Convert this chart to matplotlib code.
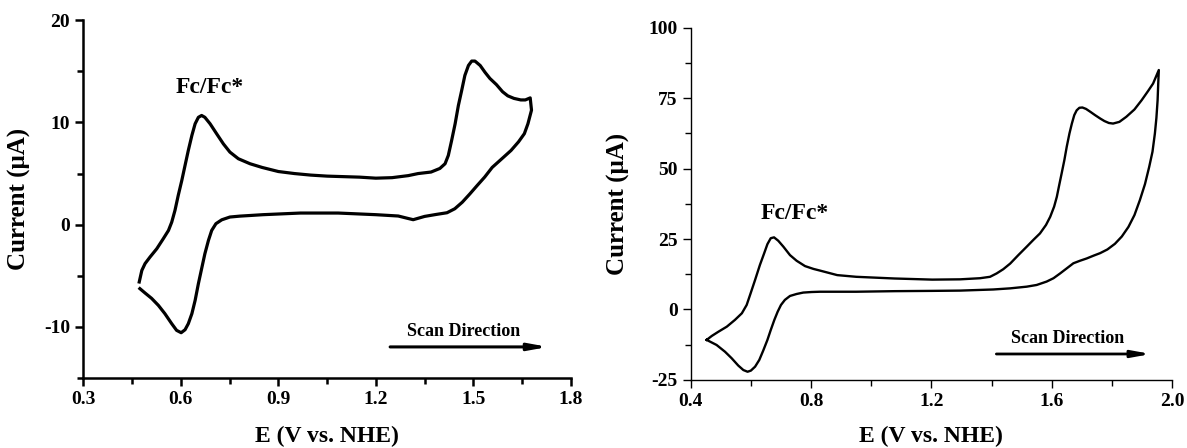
import matplotlib.pyplot as plt
from matplotlib.ticker import MultipleLocator

# ---- cyclic voltammograms, potential (V vs NHE) and current (uA) ----
# left panel: anodic sweep from 0.47 V, then the return sweep
E_left = [0.472, 0.480, 0.490, 0.505, 0.526, 0.546, 0.562, 0.572, 0.582, 0.592,
          0.603, 0.613, 0.623, 0.634, 0.644, 0.654, 0.664, 0.674, 0.690, 0.710,
          0.731, 0.751, 0.777, 0.813, 0.850, 0.900, 0.950, 1.000, 1.050, 1.100,
          1.150, 1.200, 1.250, 1.300, 1.330, 1.370, 1.397, 1.413, 1.423, 1.433,
          1.444, 1.454, 1.464, 1.474, 1.485, 1.495, 1.505, 1.521, 1.536, 1.551,
          1.571, 1.590, 1.606, 1.625, 1.646, 1.660, 1.675, 1.679, 1.668, 1.657,
          1.639, 1.616, 1.593, 1.558, 1.535, 1.512, 1.489, 1.466, 1.443, 1.419,
          1.385, 1.350, 1.315, 1.298, 1.269, 1.200, 1.084, 0.968, 0.853, 0.813,
          0.782, 0.751, 0.726, 0.708, 0.695, 0.685, 0.674, 0.664, 0.654, 0.644,
          0.634, 0.623, 0.613, 0.601, 0.587, 0.572, 0.551, 0.531, 0.510, 0.490,
          0.474]
I_left = [-5.6, -4.47, -3.8, -3.17, -2.35, -1.37, -0.56, 0.25, 1.4, 2.86,
          4.33, 5.8, 7.26, 8.73, 9.87, 10.5, 10.68, 10.5, 9.87, 8.9,
          7.9, 7.1, 6.45, 5.96, 5.6, 5.2, 5.0, 4.85, 4.75, 4.7,
          4.65, 4.55, 4.6, 4.8, 5.0, 5.15, 5.5, 5.96, 6.77, 8.2,
          9.87, 11.66, 13.1, 14.6, 15.57, 16.0, 16.0, 15.57, 14.9, 14.3,
          13.7, 13.0, 12.6, 12.35, 12.2, 12.2, 12.4, 11.2, 9.87, 8.9,
          8.1, 7.26, 6.6, 5.6, 4.66, 3.84, 3.0, 2.2, 1.56, 1.17,
          1.0, 0.81, 0.49, 0.62, 0.85, 0.98, 1.14, 1.14, 0.98, 0.9,
          0.84, 0.75, 0.48, 0.1, -0.56, -1.53, -2.84, -4.3, -5.77, -7.4,
          -8.7, -9.68, -10.27, -10.56, -10.33, -9.68, -8.7, -7.89, -7.2, -6.68,
          -6.25]

# right panel
E_right = [0.453, 0.470, 0.492, 0.520, 0.547, 0.570, 0.586, 0.599, 0.614, 0.630,
           0.644, 0.655, 0.666, 0.677, 0.691, 0.708, 0.730, 0.752, 0.780, 0.808,
           0.830, 0.887, 0.950, 1.077, 1.203, 1.295, 1.362, 1.395, 1.417, 1.439,
           1.462, 1.489, 1.517, 1.539, 1.561, 1.581, 1.595, 1.608, 1.617, 1.625,
           1.633, 1.642, 1.650, 1.659, 1.667, 1.675, 1.683, 1.692, 1.702, 1.714,
           1.728, 1.744, 1.761, 1.775, 1.790, 1.804, 1.825, 1.848, 1.875, 1.899,
           1.920, 1.937, 1.956, 1.954, 1.952, 1.948, 1.943, 1.935, 1.924, 1.910,
           1.893, 1.875, 1.855, 1.833, 1.810, 1.785, 1.761, 1.739, 1.716, 1.694,
           1.672, 1.650, 1.628, 1.606, 1.583, 1.550, 1.517, 1.462, 1.406, 1.295,
           1.200, 1.077, 0.950, 0.830, 0.802, 0.774, 0.752, 0.730, 0.713, 0.700,
           0.689, 0.678, 0.666, 0.655, 0.641, 0.628, 0.614, 0.600, 0.589, 0.575,
           0.558, 0.536, 0.514, 0.486, 0.464, 0.453]
I_right = [-10.8, -9.4, -7.9, -6.1, -3.7, -1.35, 1.6, 5.7, 10.5, 15.8,
           19.9, 23.2, 25.3, 25.6, 24.4, 22.3, 19.3, 17.3, 15.4, 14.4,
           13.8, 12.2, 11.6, 11.0, 10.6, 10.7, 11.1, 11.6, 12.8, 14.3,
           16.3, 19.3, 22.3, 24.7, 27.0, 30.0, 32.9, 36.5, 40.0, 44.2,
           48.3, 53.0, 57.8, 62.5, 66.0, 69.0, 70.7, 71.6, 71.7, 71.2,
           70.2, 69.0, 67.8, 66.9, 66.2, 66.0, 66.6, 68.4, 71.0, 74.3,
           77.5, 80.2, 85.0, 80.0, 74.3, 68.0, 62.5, 56.0, 50.6, 44.5,
           38.8, 33.5, 29.3, 25.9, 23.3, 21.3, 20.0, 19.1, 18.1, 17.3,
           16.4, 14.6, 12.8, 11.1, 9.9, 8.7, 8.1, 7.5, 7.1, 6.7,
           6.6, 6.5, 6.3, 6.3, 6.2, 6.0, 5.5, 4.8, 3.4, 1.6,
           -0.8, -3.7, -7.3, -10.8, -14.6, -17.9, -20.3, -21.7, -22.1, -21.5,
           -19.9, -17.3, -15.0, -12.6, -11.4, -10.8]

plt.rcParams['font.family'] = ['Liberation Serif', 'DejaVu Serif']
plt.rcParams['font.weight'] = 'bold'
plt.rcParams['axes.unicode_minus'] = False

fig = plt.figure(figsize=(11.87, 4.48), dpi=100)
ax1 = fig.add_axes([0.0702, 0.156, 0.4107, 0.799])
ax2 = fig.add_axes([0.5819, 0.152, 0.4055, 0.786])

# ---- left panel ----
ax1.plot(E_left, I_left, color='black', lw=2.3, solid_joinstyle='round')
ax1.set_xlim(0.3, 1.8)
ax1.set_ylim(-15, 20)
ax1.xaxis.set_major_locator(MultipleLocator(0.3))
ax1.xaxis.set_minor_locator(MultipleLocator(0.15))
ax1.yaxis.set_major_locator(MultipleLocator(10))
ax1.yaxis.set_minor_locator(MultipleLocator(5))
ax1.text(0.69, 13.4, 'Fc/Fc*', fontsize=17, fontweight='bold', ha='center', va='center')
ax1.text(1.47, -10.4, 'Scan Direction', fontsize=13, fontweight='bold', ha='center', va='center')
ax1.annotate('', xy=(1.73, -11.95), xytext=(1.244, -11.95),
             arrowprops=dict(arrowstyle='-|>,head_length=1.1,head_width=0.2',
                             lw=2.2, color='black', shrinkA=0, shrinkB=0))
for s in ['left', 'bottom']:
    ax1.spines[s].set_linewidth(1.8)
ax1.tick_params(which='major', direction='out', length=6, width=1.8, labelsize=14)
ax1.tick_params(which='minor', direction='out', length=4, width=1.8)
ax1.set_xlabel('E (V vs. NHE)', fontsize=17, fontweight='bold')
ax1.set_ylabel('Current (μA)', fontsize=18, fontweight='bold')
ax1.xaxis.set_label_coords(0.5, -0.134)
ax1.yaxis.set_label_coords(-0.107, 0.5)

# ---- right panel ----
ax2.plot(E_right, I_right, color='black', lw=1.7, solid_joinstyle='round')
ax2.set_xlim(0.4, 2.0)
ax2.set_ylim(-25, 100)
ax2.xaxis.set_major_locator(MultipleLocator(0.4))
ax2.xaxis.set_minor_locator(MultipleLocator(0.2))
ax2.yaxis.set_major_locator(MultipleLocator(25))
ax2.yaxis.set_minor_locator(MultipleLocator(12.5))
ax2.text(0.747, 34.1, 'Fc/Fc*', fontsize=17, fontweight='bold', ha='center', va='center')
ax2.text(1.652, -10.3, 'Scan Direction', fontsize=13, fontweight='bold', ha='center', va='center')
ax2.annotate('', xy=(1.93, -15.8), xytext=(1.416, -15.8),
             arrowprops=dict(arrowstyle='-|>,head_length=1.1,head_width=0.2',
                             lw=2.0, color='black', shrinkA=0, shrinkB=0))
for s in ['left', 'bottom']:
    ax2.spines[s].set_linewidth(1.0)
ax2.tick_params(which='major', direction='out', length=6, width=1.0, labelsize=14)
ax2.tick_params(which='minor', direction='out', length=4, width=1.0)
ax2.set_xlabel('E (V vs. NHE)', fontsize=17, fontweight='bold')
ax2.set_ylabel('Current (μA)', fontsize=18, fontweight='bold')
ax2.xaxis.set_label_coords(0.5, -0.131)
ax2.yaxis.set_label_coords(-0.126, 0.5)

for ax in (ax1, ax2):
    ax.spines['top'].set_visible(False)
    ax.spines['right'].set_visible(False)
    for lab in ax.get_xticklabels() + ax.get_yticklabels():
        lab.set_fontweight('bold')

fig.savefig('out.png', dpi=100)
